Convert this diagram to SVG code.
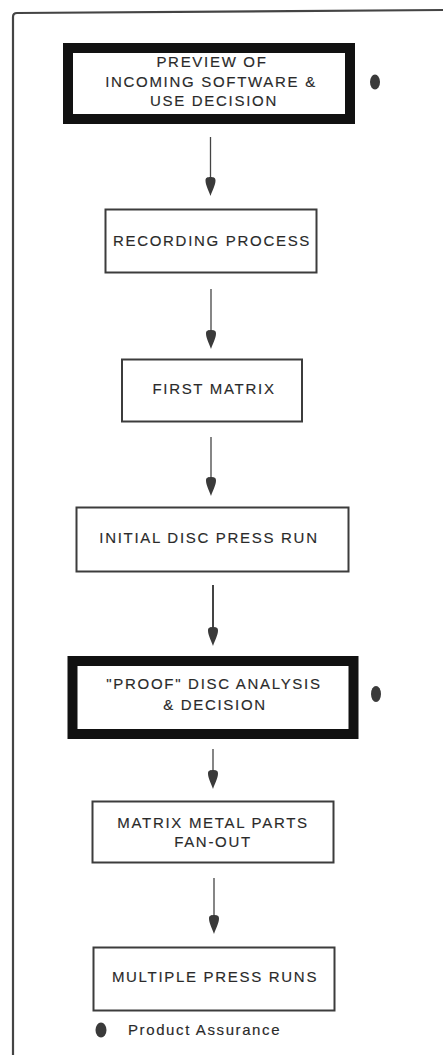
<svg xmlns="http://www.w3.org/2000/svg" width="443" height="1055" viewBox="0 0 443 1055">
<style>
  .box { fill: #fff; stroke: #3c3c3c; stroke-width: 2; }
  .thick { fill: #fff; stroke: #111; stroke-width: 10; }
  .lbl { font-family: "Liberation Sans", Arial, sans-serif; font-size: 15px; fill: #2a2a2a; stroke: #2a2a2a; stroke-width: 0.15; letter-spacing: 1.7px; text-anchor: middle; }
  .leg { font-family: "Liberation Sans", Arial, sans-serif; font-size: 15px; fill: #2a2a2a; stroke: #2a2a2a; stroke-width: 0.15; letter-spacing: 1.6px; }
  .line { stroke: #444; stroke-width: 1.3; fill: none; }
  .head { fill: #3a3a3a; }
  .dot { fill: #3a3a3a; }
  .frame { stroke: #444; stroke-width: 2.2; fill: none; }
</style>
<defs>
  <path id="ah" d="M0,19 C-2,13 -5,8 -5,3.5 C-5,0.5 -3,0 0,0 C3,0 5,0.5 5,3.5 C5,8 2,13 0,19 Z"/>
</defs>
<rect width="443" height="1055" fill="#fff"/>
<path class="frame" d="M13,1055 L13,17 Q13,13 17,13 L443,10"/>

<g id="connectors">
  <line class="line" x1="210.5" y1="137" x2="210.5" y2="178"/>
  <use href="#ah" class="head" x="210.5" y="177"/>
  <line class="line" x1="211" y1="289" x2="211" y2="332"/>
  <use href="#ah" class="head" x="211" y="330"/>
  <line class="line" x1="211" y1="437" x2="211" y2="478"/>
  <use href="#ah" class="head" x="211" y="477"/>
  <line class="line" x1="213" y1="585" x2="213" y2="628" style="stroke-width:2"/>
  <use href="#ah" class="head" x="213" y="627"/>
  <line class="line" x1="213" y1="749" x2="213" y2="771"/>
  <use href="#ah" class="head" x="213" y="770"/>
  <line class="line" x1="214" y1="878" x2="214" y2="916"/>
  <use href="#ah" class="head" x="214" y="915"/>
</g>

<g id="n1">
  <rect class="thick" x="68" y="48" width="282" height="71"/>
  <text class="lbl" x="212" y="67">PREVIEW OF</text>
  <text class="lbl" x="211" y="87">INCOMING SOFTWARE &amp;</text>
  <text class="lbl" x="214" y="106">USE DECISION</text>
  <ellipse class="dot" cx="375" cy="82" rx="5" ry="7.5"/>
</g>

<g id="n2">
  <rect class="box" x="105.5" y="209.5" width="211" height="63"/>
  <text class="lbl" x="212" y="246">RECORDING PROCESS</text>
</g>

<g id="n3">
  <rect class="box" x="122" y="359.5" width="180" height="62"/>
  <text class="lbl" x="214" y="394">FIRST MATRIX</text>
</g>

<g id="n4">
  <rect class="box" x="76.5" y="507.5" width="272" height="64"/>
  <text class="lbl" x="209" y="543">INITIAL DISC PRESS RUN</text>
</g>

<g id="n5">
  <rect class="thick" x="72.5" y="661" width="281" height="73"/>
  <text class="lbl" x="214" y="689">"PROOF" DISC ANALYSIS</text>
  <text class="lbl" x="215" y="710">&amp; DECISION</text>
  <ellipse class="dot" cx="376" cy="694" rx="5" ry="8"/>
</g>

<g id="n6">
  <rect class="box" x="92.5" y="801.5" width="241" height="61"/>
  <text class="lbl" x="213" y="828">MATRIX METAL PARTS</text>
  <text class="lbl" x="213" y="847">FAN-OUT</text>
</g>

<g id="n7">
  <rect class="box" x="93.5" y="947.5" width="241" height="63"/>
  <text class="lbl" x="215" y="982">MULTIPLE PRESS RUNS</text>
</g>

<g id="legend">
  <ellipse class="dot" cx="101" cy="1030" rx="5.5" ry="7.5"/>
  <text class="leg" x="128" y="1035">Product Assurance</text>
</g>
</svg>
